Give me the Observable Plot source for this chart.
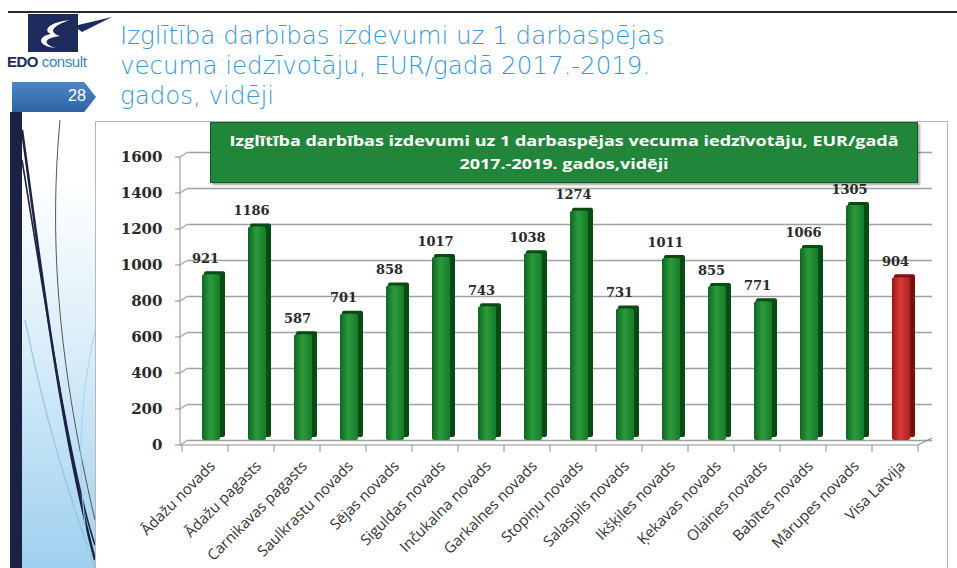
<!DOCTYPE html>
<html><head><meta charset="utf-8">
<script src="https://cdn.jsdelivr.net/npm/d3@7"></script>
<script src="https://cdn.jsdelivr.net/npm/@observablehq/plot@0.6"></script>
<style>
html,body{margin:0;padding:0;background:#fff;}
#page{position:relative;width:957px;height:568px;overflow:hidden;background:#fff;font-family:"DejaVu Sans",sans-serif;}
.abs{position:absolute;}
.hl{display:block;text-align:center;transform:scaleX(1.24);transform-origin:center;white-space:nowrap}
</style></head>
<body><div id="page">
<div class="abs" style="left:8px;top:11px;width:949px;height:2px;background:#2a2a2a"></div>
<div class="abs" style="left:22px;top:112px;width:73px;height:456px;background:linear-gradient(to bottom,#ffffff 15%,#d6ecf8 55%,#9fd0ef 100%)"></div>
<svg class="abs" style="left:0;top:0" width="100" height="568">
  <path d="M22 130 C40 260 60 430 95 560" stroke="#1c2244" stroke-width="2.5" fill="none"/>
  <path d="M22 160 C45 300 70 470 95 545" stroke="#1c2244" stroke-width="1.6" fill="none"/>
  <path d="M60 120 C50 230 55 350 95 520" stroke="#555" stroke-width="1" fill="none"/>
  <path d="M25 320 C45 420 70 500 95 568" stroke="#8fc3e6" stroke-width="1.2" fill="none"/>
  <path d="M95 330 C80 400 75 470 90 560" stroke="#a9d2ee" stroke-width="1" fill="none"/>
</svg>
<div class="abs" style="left:10px;top:112px;width:12px;height:456px;background:#1b2143"></div>
<svg class="abs" style="left:28px;top:14px" width="90" height="40">
  <rect x="0" y="0" width="50" height="38" fill="#1d2a5c"/>
  <path d="M42 6 C22 8 14 16 23 20 C10 22 8 32 28 34 C14 30 16 24 32 22 C20 18 24 12 42 6Z" fill="#fff"/>
  <path d="M46 12 L84 3 L54 18Z" fill="#1d2a5c"/>
</svg>
<div class="abs" style="left:7px;top:53px;font-family:'Liberation Sans',sans-serif;font-size:15px;line-height:18px;white-space:nowrap"><b style="color:#1d2a5c;letter-spacing:-0.5px">EDO</b><span style="color:#3a7fc0;font-size:15px;letter-spacing:-0.4px"> consult</span></div>
<div class="abs" style="left:12px;top:82px;width:84px;height:30px;background:linear-gradient(#4a86c6,#2e64a4);clip-path:polygon(0 0,86% 0,100% 50%,86% 100%,0 100%)"></div>
<div class="abs" style="left:68px;top:87px;color:#fff;font-family:'Liberation Sans',sans-serif;font-size:16px">28</div>
<div class="abs" id="title" style="left:120px;top:21px;color:#3598d8;font-size:24.5px;line-height:30px;white-space:nowrap;font-family:'DejaVu Sans',sans-serif;font-weight:300">Izglītība darbības izdevumi uz 1 darbaspējas<br>vecuma iedzīvotāju, EUR/gadā 2017.-2019.<br>gados, vidēji</div>
<div class="abs" style="left:95px;top:121px;width:853px;height:460px;border:1px solid #b8b8b8;box-sizing:border-box"></div>
<div class="abs" id="chart" style="left:95px;top:120px"></div>
<div class="abs" style="left:210px;top:122px;width:708px;height:61px;background:#21863a;border:1px solid #14582a;box-sizing:border-box;box-shadow:2px 2px 2px rgba(0,0,0,0.35);color:#fff;font-family:'Open Sans',sans-serif;font-weight:bold;font-size:14.5px;line-height:23px;padding-top:6px">
  <span class="hl">Izglītība darbības izdevumi uz 1 darbaspējas vecuma iedzīvotāju, EUR/gadā</span>
  <span class="hl">2017.-2019. gados,vidēji</span>
</div>
</div>
<script>
const categories = ["Ādažu novads","Ādažu pagasts","Carnikavas pagasts","Saulkrastu novads","Sējas novads","Siguldas novads","Inčukalna novads","Garkalnes novads","Stopiņu novads","Salaspils novads","Ikšķiles novads","Ķekavas novads","Olaines novads","Babītes novads","Mārupes novads","Visa Latvija"];
const values = [921,1186,587,701,858,1017,743,1038,1274,731,1011,855,771,1066,1305,904];
const yTicks = [0,200,400,600,800,1000,1200,1400,1600];
const highlight = "Visa Latvija";

const data = categories.map((name, i) => ({name, value: values[i]}));
const green = data.filter(d => d.name !== highlight);
const red = data.filter(d => d.name === highlight);

// depth offset of the back plane (pseudo-3D)
const DX = 6, DY = -5;

const defs = () => {
  const g = d3.create("svg:defs");
  const mk = (id, stops) => {
    const lg = g.append("linearGradient").attr("id", id).attr("x1", 0).attr("x2", 1).attr("y1", 0).attr("y2", 0);
    stops.forEach(([o, c]) => lg.append("stop").attr("offset", o).attr("stop-color", c));
  };
  mk("gGreen", [[0, "#0e661f"], [0.45, "#2b9b3d"], [1, "#167b29"]]);
  mk("gRed", [[0, "#9a1616"], [0.45, "#d83a36"], [1, "#b02020"]]);
  return g.node();
};

// walls / floor of the 3D frame, positioned with Plot's scales
const frame3d = (index, scales, values, dim) => {
  const g = d3.create("svg:g").attr("fill", "none");
  const x = scales.x, y = scales.y;
  const step = x(categories[1]) - x(categories[0]);
  const x0 = x(categories[0]);
  const x1 = x(categories[categories.length - 1]) + step;
  const yb = y(0), yt = y(yTicks[yTicks.length - 1]);
  g.append("line").attr("x1", x0 - 2).attr("x2", x0 - 2).attr("y1", yt).attr("y2", yb).attr("stroke", "#a0a0a0").attr("stroke-width", 1.2);
  for (const v of yTicks) {
    const yy = y(v);
    g.append("line").attr("x1", x0 - 7).attr("x2", x0 - 2).attr("y1", yy).attr("y2", yy).attr("stroke", "#888");
    g.append("line").attr("x1", x0 - 2).attr("x2", x0 + DX).attr("y1", yy).attr("y2", yy + DY).attr("stroke", "#a0a0a0").attr("stroke-width", 1.2);
  }
  g.append("line").attr("x1", x0 - 2).attr("x2", x1).attr("y1", yb).attr("y2", yb).attr("stroke", "#909090").attr("stroke-width", 1.2);
  g.append("line").attr("x1", x1).attr("x2", x1 + DX + 8).attr("y1", yb).attr("y2", yb + DY - 2).attr("stroke", "#909090").attr("stroke-width", 1.2);
  for (let i = 0; i <= categories.length; i++) {
    const xx = x0 + i * step;
    g.append("line").attr("x1", xx).attr("x2", xx).attr("y1", yb).attr("y2", yb + 7).attr("stroke", "#909090");
  }
  return g.node();
};

const inset = 14;
const chart = Plot.plot({
  width: 855,
  height: 448,
  marginLeft: 87,
  marginRight: 32,
  marginTop: 37,
  marginBottom: 123,
  x: {domain: categories, padding: 0, axis: null},
  y: {domain: [0, 1600], axis: null},
  style: {background: "transparent", overflow: "visible"},
  marks: [
    defs,
    Plot.ruleY(yTicks, {stroke: "#a0a0a0", strokeWidth: 1.3, dx: DX, dy: DY, insetRight: -8}),
    frame3d,
    Plot.barY(green, {x: "name", y: "value", fill: "#0a4a15", insetLeft: inset + 2, insetRight: inset - 5, dx: DX, dy: DY - 3, rx: 2}),
    Plot.barY(red, {x: "name", y: "value", fill: "#7a1010", insetLeft: inset + 2, insetRight: inset - 5, dx: DX, dy: DY - 3, rx: 2}),
    Plot.barY(green, {x: "name", y: "value", fill: "url(#gGreen)", insetLeft: inset, insetRight: inset, dx: DX, dy: DY, rx: 2}),
    Plot.barY(red, {x: "name", y: "value", fill: "url(#gRed)", insetLeft: inset, insetRight: inset, dx: DX, dy: DY, rx: 2}),
    Plot.text(data, {x: "name", y: "value", text: d => String(d.value), dy: -21, fontSize: 13, fontWeight: "bold", fontFamily: "DejaVu Serif", fill: "#2a2a2a"}),
    Plot.axisY({ticks: yTicks, tickFormat: d => String(d), label: null, tickSize: 0, tickPadding: 20, fontSize: 15, fontWeight: "bold", fontFamily: "DejaVu Serif", fill: "#2a2a2a"}),
    Plot.text(data, {x: "name", text: "name", frameAnchor: "bottom", rotate: -45, textAnchor: "end", lineAnchor: "top", dx: 3, dy: 14, fontSize: 15, fontFamily: "Open Sans", fill: "#333"})
  ]
});
document.getElementById("chart").appendChild(chart);
</script>
</body></html>
